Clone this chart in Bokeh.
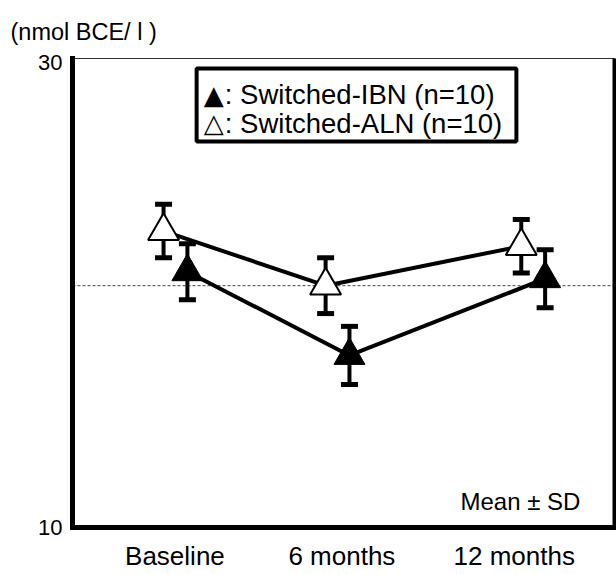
from bokeh.plotting import figure
from bokeh.models import (Range1d, FixedTicker, LinearAxis, Span, BoxAnnotation,
                          Label, ColumnDataSource)
from bokeh.embed import file_html
from bokeh.resources import INLINE

# ---- data ----
categories = ["Baseline", "6 months", "12 months"]
label_pos = [18.9, 49.7, 81.5]        # where the category labels sit on the x scale
group_pos = [19.0, 48.9, 85.0]        # x position of each time point
dodge = 2.2                           # half distance between the two series
ibn_mean = [21.0, 17.4, 20.7]         # Switched-IBN (filled triangles)
ibn_sd = [1.2, 1.25, 1.25]
aln_mean = [22.75, 20.4, 22.1]        # Switched-ALN (open triangles)
aln_sd = [1.15, 1.2, 1.15]
reference_level = 20.4
y_ticks = [10, 30]

FONT = "Liberation Sans"

p = figure(width=616, height=574,
           x_range=Range1d(0, 100), y_range=Range1d(10, 30.17),
           output_backend="svg", toolbar_location=None,
           min_border_left=72, min_border_top=58,
           min_border_right=2, min_border_bottom=47)
p.background_fill_color = "white"
p.border_fill_color = "white"
p.outline_line_color = "#333333"
p.outline_line_width = 1
p.xgrid.visible = False
p.ygrid.visible = False

# title as the unit label at top-left
p.title.text = "(nmol BCE/ l )"
p.title.align = "left"
p.title.offset = -62
p.title.standoff = 28
p.title.text_font = FONT
p.title.text_font_style = "normal"
p.title.text_font_size = "23.5px"
p.title.text_color = "black"

# y axis
ya = p.yaxis[0]
ya.ticker = FixedTicker(ticks=y_ticks)
ya.axis_line_width = 5
ya.axis_line_color = "black"
ya.axis_line_cap = "square"
ya.major_tick_line_color = None
ya.minor_tick_line_color = None
ya.major_tick_out = 0
ya.major_tick_in = 0
ya.major_label_standoff = 10
ya.major_label_text_font = FONT
ya.major_label_text_font_size = "22px"
ya.major_label_text_color = "black"

# x axis
xa = p.xaxis[0]
xa.ticker = FixedTicker(ticks=label_pos)
xa.major_label_overrides = {pos: lab for pos, lab in zip(label_pos, categories)}
xa.axis_line_width = 5
xa.axis_line_color = "black"
xa.axis_line_cap = "square"
xa.major_tick_line_color = None
xa.minor_tick_line_color = None
xa.major_tick_out = 0
xa.major_tick_in = 0
xa.major_label_standoff = 13
xa.major_label_text_font = FONT
xa.major_label_text_font_size = "26px"
xa.major_label_text_color = "black"

# right thick frame line
ra = LinearAxis(ticker=FixedTicker(ticks=[]), axis_line_width=4, axis_line_color="black",
                major_tick_line_color=None, minor_tick_line_color=None,
                major_tick_out=0, major_tick_in=0, major_label_standoff=0,
                major_label_text_font_size="0px")
p.add_layout(ra, "right")

# dashed reference line
p.add_layout(Span(location=reference_level, dimension="width", line_color="#444444",
                  line_width=1, line_dash="3 2", level="underlay"))

ibn_x = [g + dodge for g in group_pos]
aln_x = [g - dodge for g in group_pos]


def make_src(x, m, s):
    return ColumnDataSource(dict(x=x, mean=m,
                                 lo=[a - b for a, b in zip(m, s)],
                                 hi=[a + b for a, b in zip(m, s)]))


ibn = make_src(ibn_x, ibn_mean, ibn_sd)
aln = make_src(aln_x, aln_mean, aln_sd)

# connecting lines
p.line("x", "mean", source=aln, line_width=4, line_color="black")
p.line("x", "mean", source=ibn, line_width=4, line_color="black")

for src in (ibn, aln):
    p.segment(x0="x", y0="lo", x1="x", y1="hi", source=src, line_width=4, line_color="black")
    for col in ("lo", "hi"):
        p.rect(x="x", y=col, width=17, height=5, width_units="screen", height_units="screen",
               source=src, fill_color="black", line_color=None)

p.scatter("x", "mean", source=ibn, marker="triangle", size=31,
          fill_color="black", line_color="black", line_width=1)
p.scatter("x", "mean", source=aln, marker="triangle", size=31,
          fill_color="white", line_color="black", line_width=2)

# legend box
p.add_layout(BoxAnnotation(left=22.9, right=81.9, top=29.74, bottom=26.6,
                           fill_color="white", fill_alpha=1.0,
                           line_color="black", line_alpha=1.0, line_width=4))
legend_rows = [("\u25B2", ": Switched-IBN (n=10)", 28.62),
               ("\u25B3", ": Switched-ALN (n=10)", 27.38)]
for sym, txt, yy in legend_rows:
    p.add_layout(Label(x=24.2, y=yy, text=sym, text_font="DejaVu Sans",
                       text_font_size="26px", text_baseline="middle", text_color="black"))
    p.add_layout(Label(x=28.1, y=yy, text=txt, text_font=FONT, text_font_size="27.5px",
                       text_baseline="middle", text_color="black"))

p.add_layout(Label(x=93.7, y=11.1, text="Mean \u00B1 SD", text_align="right",
                   text_baseline="middle", text_font=FONT, text_font_size="24px",
                   text_color="black"))

open("out.html", "w").write(file_html(p, INLINE))
